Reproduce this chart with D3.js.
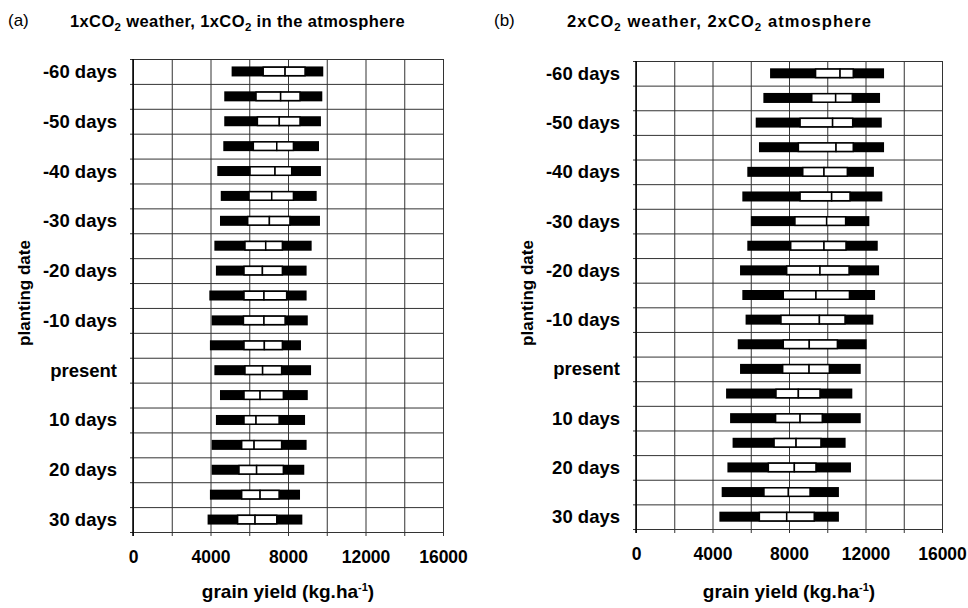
<!DOCTYPE html>
<html>
<head>
<meta charset="utf-8">
<script src="https://cdn.jsdelivr.net/npm/d3@7"></script>
<style>
  body { margin: 0; background: #fff; }
  text { font-family: Arial, "Liberation Sans", sans-serif; fill: #000; }
</style>
</head>
<body>
<svg id="chart" width="968" height="608"></svg>
<script>
// planting dates, one row each (label only every other row)
var rowLabels = ["-60 days", "", "-50 days", "", "-40 days", "", "-30 days", "", "-20 days", "",
                 "-10 days", "", "present", "", "10 days", "", "20 days", "", "30 days"];

var xTicks = [0, 4000, 8000, 12000, 16000];

// panel (a) 1xCO2 weather, 1xCO2 in the atmosphere
var aMin = [5090, 4710, 4710, 4660, 4350, 4530, 4490, 4200, 4280, 3940, 4060, 3970, 4200, 4490, 4280, 4060, 4060, 3970, 3850];
var aQ1  = [6720, 6350, 6420, 6210, 6040, 5990, 5920, 5780, 5730, 5730, 5700, 5730, 5780, 5730, 5730, 5610, 5470, 5610, 5400];
var aMed = [7850, 7620, 7550, 7420, 7330, 7160, 7040, 6850, 6680, 6760, 6760, 6780, 6690, 6560, 6350, 6250, 6380, 6560, 6300];
var aQ3  = [8880, 8620, 8620, 8280, 8190, 8280, 8100, 7710, 7710, 7930, 7850, 7710, 7670, 7760, 7540, 7670, 7760, 7540, 7420];
var aMax = [9820, 9770, 9700, 9600, 9700, 9480, 9650, 9220, 8960, 8960, 9020, 8670, 9190, 9020, 8880, 8960, 8840, 8620, 8740];

// panel (b) 2xCO2 weather, 2xCO2 atmosphere
var bMin = [7010, 6660, 6260, 6430, 5820, 5560, 6010, 5820, 5440, 5560, 5730, 5320, 5440, 4710, 4920, 5050, 4780, 4480, 4360];
var bQ1  = [9390, 9190, 8580, 8490, 8720, 8580, 8310, 8090, 7880, 7700, 7580, 7700, 7670, 7320, 7300, 7220, 6920, 6690, 6450];
var bMed = [10670, 10440, 10280, 10460, 9830, 10230, 9970, 9830, 9620, 9410, 9590, 9060, 9050, 8490, 8580, 8370, 8280, 7970, 7880];
var bQ3  = [11360, 11310, 11330, 11360, 11050, 11190, 10960, 10980, 11140, 11160, 10930, 10530, 10110, 9620, 9740, 9670, 9410, 9100, 9320];
var bMax = [12970, 12760, 12850, 12970, 12440, 12880, 12200, 12640, 12710, 12500, 12410, 12060, 11750, 11310, 11750, 10960, 11240, 10610, 10610];

var svg = d3.select("#chart");

function drawPanel(opt){
  var x = d3.scaleLinear().domain([0, 16000]).range([opt.left, opt.right]);
  var yb = d3.scaleLinear().domain([0, rowLabels.length]).range([opt.top, opt.bottom]);
  var y = d3.scaleBand().domain(d3.range(rowLabels.length)).range([opt.top, opt.bottom]);

  var g = svg.append("g");

  // vertical grid + bottom ticks
  g.append("g")
      .attr("transform", "translate(0," + (opt.bottom + 4) + ")")
      .call(d3.axisBottom(x)
        .tickValues(d3.range(0, 16001, 2000))
        .tickSize(-(opt.bottom + 4 - opt.top))
        .tickPadding(15)
        .tickFormat(function(d){ return xTicks.indexOf(d) > -1 ? d : ""; }))
      .call(function(s){
        s.select(".domain").remove();
        s.selectAll("line").attr("stroke", "#333").attr("stroke-width", 1);
        s.selectAll("text").attr("font-size", 17.5).attr("font-weight", "bold");
      });

  // horizontal grid + left ticks
  g.append("g")
      .attr("transform", "translate(" + (opt.left - 3) + ",0)")
      .call(d3.axisLeft(yb)
        .tickValues(d3.range(0, rowLabels.length + 1))
        .tickSize(-(opt.right - opt.left + 3))
        .tickFormat(""))
      .call(function(s){
        s.select(".domain").remove();
        s.selectAll("line").attr("stroke", "#333").attr("stroke-width", 1);
      });

  // left border
  g.append("line")
      .attr("x1", opt.left).attr("x2", opt.left)
      .attr("y1", opt.top).attr("y2", opt.bottom + 4)
      .attr("stroke", "#000").attr("stroke-width", 1.5);

  // row labels
  g.selectAll(".rl").data(rowLabels).enter().append("text")
      .attr("class", "rl")
      .attr("x", opt.left - 16)
      .attr("y", function(d, i){ return y(i) + y.bandwidth() / 2 + 6.5; })
      .attr("text-anchor", "end")
      .attr("font-size", 18.5)
      .attr("font-weight", "bold")
      .text(function(d){ return d; });

  var bh = 10;
  var rows = g.selectAll(".row").data(opt.min).enter().append("g")
      .attr("class", "row")
      .attr("transform", function(d, i){ return "translate(0," + (y(i) + y.bandwidth() / 2 - bh / 2) + ")"; });

  rows.append("rect")
      .attr("x", function(d, i){ return x(opt.min[i]); })
      .attr("width", function(d, i){ return x(opt.max[i]) - x(opt.min[i]); })
      .attr("height", bh)
      .attr("fill", "#000");

  rows.append("rect")
      .attr("x", function(d, i){ return x(opt.q1[i]); })
      .attr("width", function(d, i){ return x(opt.med[i]) - x(opt.q1[i]); })
      .attr("y", 0.75)
      .attr("height", bh - 1.5)
      .attr("fill", "#fff").attr("stroke", "#000").attr("stroke-width", 1.5);

  rows.append("rect")
      .attr("x", function(d, i){ return x(opt.med[i]); })
      .attr("width", function(d, i){ return x(opt.q3[i]) - x(opt.med[i]); })
      .attr("y", 0.75)
      .attr("height", bh - 1.5)
      .attr("fill", "#fff").attr("stroke", "#000").attr("stroke-width", 1.5);

  // axis titles
  g.append("text")
      .attr("transform", "translate(" + (opt.left - 103) + ",293) rotate(-90)")
      .attr("text-anchor", "middle")
      .attr("font-size", 17)
      .attr("font-weight", "bold")
      .text("planting date");

  var xt = g.append("text")
      .attr("x", (opt.left + opt.right) / 2)
      .attr("y", 598)
      .attr("text-anchor", "middle")
      .attr("font-size", 19)
      .attr("font-weight", "bold");
  xt.append("tspan").text("grain yield (kg.ha");
  xt.append("tspan").attr("dy", -7).attr("font-size", 11).text("-1");
  xt.append("tspan").attr("dy", 7).text(")");

  // panel letter and title
  g.append("text")
      .attr("x", opt.letterX).attr("y", 26)
      .attr("font-size", 17)
      .text(opt.letter);

  var t = g.append("text")
      .attr("x", opt.titleX).attr("y", 27)
      .attr("font-size", 16.5)
      .attr("font-weight", "bold");
  opt.title.forEach(function(p){
    if (p.sub) {
      t.append("tspan").attr("dy", 4).attr("font-size", 11.5).text(p.text);
    } else {
      t.append("tspan").attr("dy", p.after ? -4 : 0).text(p.text);
    }
  });
  // stretch the title a little to the width it has in the original
  var w = t.node().getComputedTextLength();
  var n = opt.title.map(function(p){ return p.text; }).join("").length;
  t.attr("letter-spacing", Math.max(0, (opt.titleW - w) / n));
}

drawPanel({
  left: 133, right: 443, top: 59, bottom: 532,
  min: aMin, q1: aQ1, med: aMed, q3: aQ3, max: aMax,
  letter: "(a)", letterX: 8, titleX: 70, titleW: 335,
  title: [{text: "1xCO"}, {text: "2", sub: true}, {text: " weather, 1xCO", after: true}, {text: "2", sub: true}, {text: " in the atmosphere", after: true}]
});

drawPanel({
  left: 636, right: 942, top: 61, bottom: 529,
  min: bMin, q1: bQ1, med: bMed, q3: bQ3, max: bMax,
  letter: "(b)", letterX: 494, titleX: 567, titleW: 305,
  title: [{text: "2xCO"}, {text: "2", sub: true}, {text: " weather, 2xCO", after: true}, {text: "2", sub: true}, {text: " atmosphere", after: true}]
});
</script>
</body>
</html>
